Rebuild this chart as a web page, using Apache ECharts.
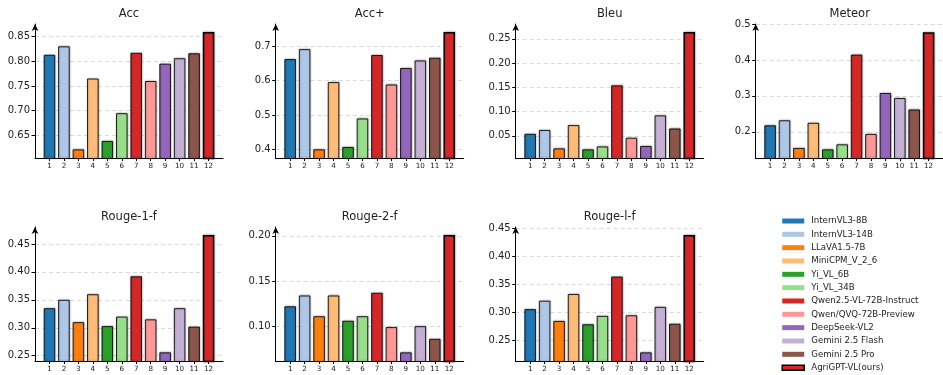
<!DOCTYPE html>
<html>
<head>
<meta charset="utf-8">
<title>Metric comparison</title>
<script src="https://cdn.jsdelivr.net/npm/echarts@6/dist/echarts.min.js"></script>
<style>
  html, body { margin: 0; padding: 0; background: #fff; }
  #chart { width: 943px; height: 375px; }
</style>
</head>
<body>
<div id="chart"></div>
<script>
var models = ['InternVL3-8B', 'InternVL3-14B', 'LLaVA1.5-7B', 'MiniCPM_V_2_6', 'Yi_VL_6B', 'Yi_VL_34B',
  'Qwen2.5-VL-72B-Instruct', 'Qwen/QVQ-72B-Preview', 'DeepSeek-VL2', 'Gemini 2.5 Flash', 'Gemini 2.5 Pro', 'AgriGPT-VL(ours)'];
var barIds = [1, 2, 3, 4, 5, 6, 7, 8, 9, 10, 11, 12];

var accVals    = [0.813, 0.830, 0.622, 0.765, 0.639, 0.695, 0.817, 0.760, 0.795, 0.806, 0.816, 0.859];
var accPlusVals = [0.663, 0.692, 0.400, 0.596, 0.407, 0.490, 0.675, 0.589, 0.637, 0.659, 0.667, 0.742];
var bleuVals   = [0.054, 0.062, 0.024, 0.072, 0.022, 0.028, 0.154, 0.046, 0.029, 0.092, 0.065, 0.264];
var meteorVals = [0.218, 0.232, 0.155, 0.225, 0.151, 0.165, 0.415, 0.194, 0.308, 0.294, 0.262, 0.477];
var rouge1Vals = [0.335, 0.350, 0.310, 0.360, 0.303, 0.320, 0.392, 0.315, 0.256, 0.335, 0.302, 0.466];
var rouge2Vals = [0.122, 0.134, 0.111, 0.134, 0.106, 0.111, 0.137, 0.099, 0.071, 0.100, 0.086, 0.201];
var rougeLVals = [0.306, 0.321, 0.285, 0.333, 0.279, 0.294, 0.364, 0.295, 0.229, 0.310, 0.280, 0.438];

var accTicks    = [0.65, 0.70, 0.75, 0.80, 0.85];
var accPlusTicks = [0.4, 0.5, 0.6, 0.7];
var bleuTicks   = [0.05, 0.10, 0.15, 0.20, 0.25];
var meteorTicks = [0.2, 0.3, 0.4, 0.5];
var rouge1Ticks = [0.25, 0.30, 0.35, 0.40, 0.45];
var rouge2Ticks = [0.10, 0.15, 0.20];
var rougeLTicks = [0.25, 0.30, 0.35, 0.40, 0.45];

var colors = ['#1f77b4', '#aec7e8', '#ff7f0e', '#ffbb78', '#2ca02c', '#98df8a',
  '#d62728', '#ff9896', '#9467bd', '#c5b0d5', '#8c564b', '#d62728'];

var panels = [
  {title: 'Acc', vals: accVals, ticks: accTicks, dec: 2},
  {title: 'Acc+', vals: accPlusVals, ticks: accPlusTicks, dec: 1},
  {title: 'Bleu', vals: bleuVals, ticks: bleuTicks, dec: 2},
  {title: 'Meteor', vals: meteorVals, ticks: meteorTicks, dec: 1},
  {title: 'Rouge-1-f', vals: rouge1Vals, ticks: rouge1Ticks, dec: 2},
  {title: 'Rouge-2-f', vals: rouge2Vals, ticks: rouge2Ticks, dec: 2},
  {title: 'Rouge-l-f', vals: rougeLVals, ticks: rougeLTicks, dec: 2}
];

var FONT = 'DejaVu Sans';
var colLeft = [35, 275.7, 515.7, 755.7];
var rowTop = [24, 227];
var plotW = 188, plotH = 134.5;

var grids = [], xAxes = [], yAxes = [], titles = [], series = [];

panels.forEach(function (p, i) {
  var c = i % 4, r = Math.floor(i / 4);
  var lo = Math.min.apply(null, p.vals), hi = Math.max.apply(null, p.vals);
  var span = hi - lo;
  var yMax = hi + 0.068 * span;
  var topTick = p.ticks[p.ticks.length - 1];
  // let a tick sitting right on the top edge still show
  if (topTick > yMax && topTick - yMax < 0.01 * span) yMax = topTick;
  grids.push({left: colLeft[c], top: rowTop[r], width: plotW, height: plotH});
  titles.push({
    text: p.title, left: colLeft[c] + plotW / 2, top: rowTop[r] - 16, textAlign: 'center', padding: 0,
    textStyle: {fontFamily: FONT, fontSize: 11.5, fontWeight: 'normal', color: '#222'}
  });
  xAxes.push({
    type: 'value', gridIndex: i, min: 0, max: 13,
    axisLine: {lineStyle: {color: '#000', width: 1}},
    axisTick: {show: true, length: 2.5, customValues: barIds, lineStyle: {color: '#000'}},
    axisLabel: {customValues: barIds, fontFamily: FONT, fontSize: 7.2, color: '#222', margin: 4},
    splitLine: {show: false}
  });
  yAxes.push({
    type: 'value', gridIndex: i, min: lo - 0.078 * span, max: yMax,
    axisLine: {show: true, symbol: ['none', 'arrow'], symbolSize: [5, 7], lineStyle: {color: '#000', width: 1}},
    axisTick: {show: true, length: 3.5, customValues: p.ticks, lineStyle: {color: '#000'}},
    axisLabel: {
      customValues: p.ticks, fontFamily: FONT, fontSize: 10, color: '#222', margin: 5,
      formatter: (function (d) { return function (v) { return v.toFixed(d); }; })(p.dec)
    },
    splitLine: {show: true, lineStyle: {color: '#d0d0d0', type: [4, 3], width: 0.8}}
  });
  series.push({
    type: 'bar', xAxisIndex: i, yAxisIndex: i, barWidth: 11.6, silent: true, clip: true,
    data: p.vals.map(function (v, k) {
      var last = k === p.vals.length - 1;
      return {
        value: [barIds[k], v],
        itemStyle: {
          color: colors[k],
          borderColor: last ? '#000' : 'rgba(0,0,0,0.85)',
          borderWidth: last ? 1.5 : 1,
          shadowColor: 'rgba(0,0,0,0.25)', shadowBlur: 2, shadowOffsetX: 0.5, shadowOffsetY: -0.5
        }
      };
    })
  });
});

// hidden grid only carrying the legend entries
grids.push({left: 0, top: 0, width: 1, height: 1, show: false});
xAxes.push({type: 'value', gridIndex: 7, show: false});
yAxes.push({type: 'value', gridIndex: 7, show: false});
models.forEach(function (m, k) {
  series.push({type: 'bar', name: m, xAxisIndex: 7, yAxisIndex: 7, data: [], itemStyle: {color: colors[k]}});
});

var option = {
  backgroundColor: '#fff',
  animation: false,
  title: titles,
  grid: grids,
  xAxis: xAxes,
  yAxis: yAxes,
  legend: {
    orient: 'vertical', left: 781.5, top: 216, icon: 'rect',
    itemWidth: 22, itemHeight: 5, itemGap: 3.33, padding: 0,
    selectedMode: false,
    textStyle: {fontFamily: FONT, fontSize: 8.6, color: '#222', lineHeight: 10, padding: [0, 0, 0, 2]},
    data: models.map(function (m, k) {
      var last = k === models.length - 1;
      return {
        name: m,
        itemStyle: {color: colors[k], borderColor: last ? '#000' : colors[k], borderWidth: last ? 1.5 : 0}
      };
    })
  },
  series: series
};

var chart = echarts.init(document.getElementById('chart'), null, {renderer: 'canvas'});
chart.setOption(option);
</script>
</body>
</html>
